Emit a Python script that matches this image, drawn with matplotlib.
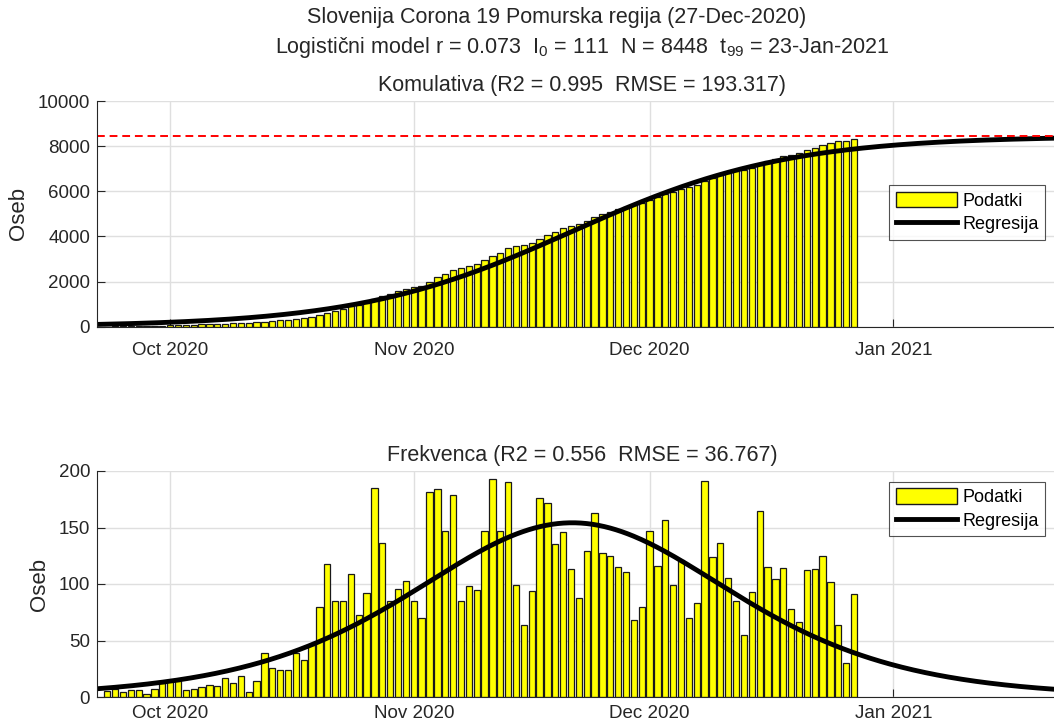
import numpy as np
import matplotlib
matplotlib.use("Agg")
import matplotlib.pyplot as plt
import matplotlib.dates as mdates
from matplotlib.patches import Patch
from matplotlib.lines import Line2D

plt.rcParams['font.family'] = ['Liberation Sans', 'DejaVu Sans']
plt.rcParams['mathtext.fontset'] = 'custom'
plt.rcParams['mathtext.rm'] = 'Liberation Sans'
plt.rcParams['mathtext.it'] = 'Liberation Sans'

# daily new cases, from 23-Sep-2020 to 27-Dec-2020
start_date = np.datetime64('2020-09-23')
freq = [5, 7, 4, 6, 6, 3, 7, 12,
        14, 14, 6, 7, 9, 11, 10, 17, 12, 19,
        4, 14, 39, 26, 24, 24, 39, 33, 46, 80,
        118, 85, 85, 109, 73, 92, 185, 136, 85, 96, 103, 85,
        70, 181, 184, 147, 179, 85, 98, 95, 147,
        193, 147, 190, 99, 64, 94, 176, 172, 135, 146,
        113, 88, 129, 163, 127, 125, 115, 111, 68, 80,
        147, 116, 157, 99, 121, 70, 83, 191, 124, 136,
        105, 85, 55, 93, 165, 115, 104, 114, 78, 66,
        112, 113, 125, 102, 64, 30, 91]

# logistic model parameters (from title)
r = 0.073
I0 = 111
N = 8448
t99 = 122.1  # days after start_date

freq = np.array(freq)
cum = np.cumsum(freq)
dates = start_date + np.arange(len(freq))
xd = mdates.date2num(dates.astype('datetime64[D]').astype(object))
x0 = mdates.date2num(np.datetime64(start_date, 'D').astype(object))

t = np.linspace(-1.3, t99, 500)
C = N / (1 + (N / I0 - 1) * np.exp(-r * t))
dC = r * C * (1 - C / N)
xt = x0 + t

txt = '#262626'
W, H = 1054, 727
fig = plt.figure(figsize=(W / 100, H / 100), dpi=100)

def setup(ax, ymax, step, xpad):
    ax.set_xlim(x0 - 1.3, x0 + t99)
    ax.set_ylim(0, ymax)
    ax.set_yticks(np.arange(0, ymax + 1, step))
    ax.xaxis.set_major_locator(mdates.MonthLocator())
    ax.xaxis.set_major_formatter(mdates.DateFormatter('%b %Y'))
    ax.grid(True, color='#dfdfdf', linewidth=1)
    ax.set_axisbelow(True)
    for s in ['top', 'right']:
        ax.spines[s].set_visible(False)
    for s in ['left', 'bottom']:
        ax.spines[s].set_color('#262626')
    ax.tick_params(direction='in', length=6, colors=txt, labelsize=13.5)
    ax.tick_params(axis='y', pad=5)
    ax.tick_params(axis='x', pad=xpad)
    ax.set_ylabel('Oseb', fontsize=16, color=txt, labelpad=6)

handles = [Patch(facecolor='#ffff00', edgecolor='#1a1a1a', label='Podatki'),
           Line2D([0], [0], color='black', linewidth=3.5, label='Regresija')]
leg_kw = dict(handles=handles, bbox_transform=fig.transFigure, fancybox=False,
              edgecolor='#262626', fontsize=13, handlelength=3.4, handleheight=0.95,
              handletextpad=0.3, borderpad=0.35, labelspacing=0.3, borderaxespad=0)

ax1 = fig.add_axes([97 / W, 1 - 326.7 / H, (1067 - 97) / W, 225.7 / H])
ax1.bar(xd, cum, width=0.8, color='#ffff00', edgecolor='#1a1a1a', linewidth=0.9)
ax1.plot(xt, C, color='black', linewidth=3.5)
ax1.axhline(N, color='#ff0000', linestyle=(0, (4, 2.5)), linewidth=1.4)
setup(ax1, 10000, 2000, 11)
ax1.set_title('Komulativa (R2 = 0.995  RMSE = 193.317)', fontsize=15.5, color=txt, pad=7)
leg1 = ax1.legend(loc='center right', bbox_to_anchor=(1045 / W, 1 - 212.5 / H), **leg_kw)
leg1.get_frame().set_linewidth(0.8)

ax2 = fig.add_axes([97 / W, 1 - 697 / H, (1067 - 97) / W, 226 / H])
ax2.bar(xd, freq, width=0.8, color='#ffff00', edgecolor='#1a1a1a', linewidth=0.9)
ax2.plot(xt, dC, color='black', linewidth=3.5)
setup(ax2, 200, 50, 6)
ax2.set_title('Frekvenca (R2 = 0.556  RMSE = 36.767)', fontsize=15.5, color=txt, pad=7)
leg2 = ax2.legend(loc='upper right', bbox_to_anchor=(1045 / W, 1 - 482 / H), **leg_kw)
leg2.get_frame().set_linewidth(0.8)

fig.text(557 / W, 1 - 18 / H, 'Slovenija Corona 19 Pomurska regija (27-Dec-2020)',
         ha='center', va='center', fontsize=15.5, color=txt)
fig.text(582 / W, 1 - 47 / H,
         r'Logistični model r = 0.073  I$_{\mathrm{0}}$ = 111  N = 8448  t$_{\mathrm{99}}$ = 23-Jan-2021',
         ha='center', va='center', fontsize=15.5, color=txt)

fig.savefig('out.png', dpi=100)
